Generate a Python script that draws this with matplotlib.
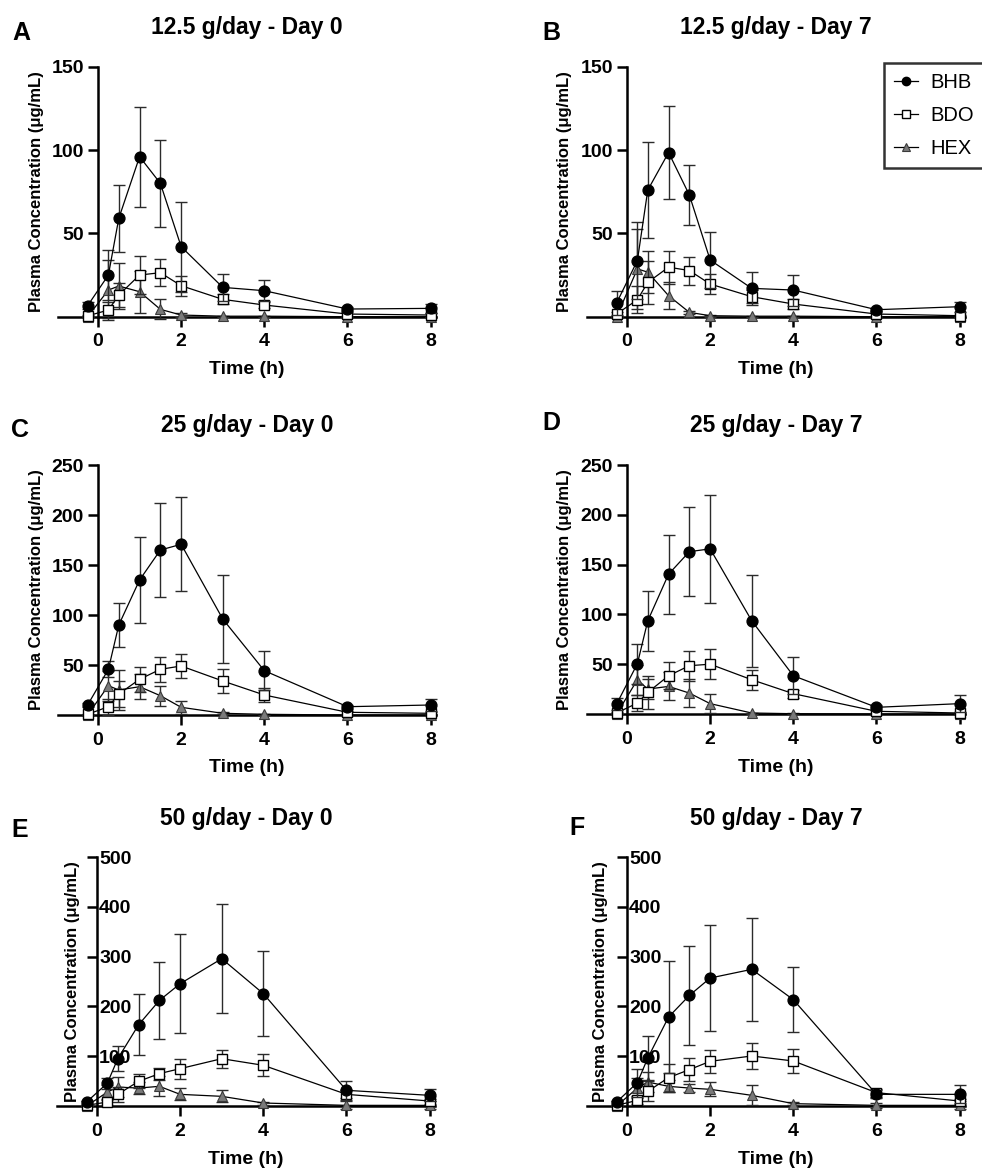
import matplotlib
matplotlib.use("Agg")
import matplotlib.pyplot as plt
from matplotlib.lines import Line2D
import numpy as np

plt.rcParams['font.family'] = ['Liberation Sans', 'DejaVu Sans']

# ---------------- data ----------------
time_h = [-0.25, 0.25, 0.5, 1, 1.5, 2, 3, 4, 6, 8]
series_names = ["BHB", "BDO", "HEX"]
panel_letters = ["A", "B", "C", "D", "E", "F"]
panel_titles = ["12.5 g/day - Day 0", "12.5 g/day - Day 7",
                "25 g/day - Day 0", "25 g/day - Day 7",
                "50 g/day - Day 0", "50 g/day - Day 7"]
y_max = [150, 150, 250, 250, 500, 500]
y_ticks = [[50, 100, 150], [50, 100, 150],
           [50, 100, 150, 200, 250], [50, 100, 150, 200, 250],
           [100, 200, 300, 400, 500], [100, 200, 300, 400, 500]]
x_ticks = [0, 2, 4, 6, 8]

# Panel A: 12.5 g/day Day 0
A_bhb = [6.6, 25, 59, 96, 80, 42, 17.6, 15.6, 4.6, 5]
A_bhb_sd = [2, 15, 20, 30, 26, 27, 8, 6.4, 1, 2.6]
A_bdo = [0.5, 4, 13, 25, 26.4, 18.6, 10.4, 7, 1.6, 1]
A_bdo_sd = [0.5, 5, 7, 11.4, 8, 6, 3, 2, 1, 1]
A_hex = [0, 16, 18.4, 15, 4.4, 1, 0.3, 0.3, 0, 0]
A_hex_sd = [0, 18, 14, 12.6, 6, 1, 0.3, 0.3, 0, 0]

# Panel B: 12.5 g/day Day 7
B_bhb = [8.2, 33.7, 76, 98.5, 73, 34, 17, 16, 4.2, 6]
B_bhb_sd = [7.4, 23, 29, 28, 18, 17, 10, 9.3, 1, 3]
B_bdo = [1.6, 10.2, 20.6, 29.7, 27.7, 19.6, 12, 7.6, 1.6, 0.6]
B_bdo_sd = [1, 8, 13, 10, 8.4, 6, 4, 3, 1, 0.5]
B_hex = [0, 28.7, 26.7, 12.6, 2.6, 0.6, 0.3, 0.3, 0, 0]
B_hex_sd = [0, 24, 12.6, 8, 1, 0.5, 0.3, 0.3, 0, 0]

# Panel C: 25 g/day Day 0
C_bhb = [10, 45.7, 90, 135, 165, 170.7, 96, 44.3, 8.3, 10]
C_bhb_sd = [2, 8, 21.7, 42.7, 46.7, 47, 44.3, 19.7, 2, 5.7]
C_bdo = [0.7, 8.3, 21, 35.7, 45.7, 49, 34, 20, 2.7, 1.7]
C_bdo_sd = [0.5, 8, 13, 12.7, 12.7, 12, 11.7, 6.7, 1.5, 1]
C_hex = [0, 29.3, 25, 28.3, 19.3, 7.7, 1.7, 0.7, 0, 0]
C_hex_sd = [0, 15, 20, 12.6, 10, 6.3, 1, 0.5, 0, 0]

# Panel D: 25 g/day Day 7
D_bhb = [10, 50.5, 93.6, 140.4, 163, 165.8, 93.6, 38.4, 6.7, 10.4]
D_bhb_sd = [6, 20, 30, 39.5, 44.5, 54, 46, 18.4, 2, 8.3]
D_bdo = [1, 11, 21.7, 38.4, 48.5, 50, 34.4, 20.4, 2.7, 1]
D_bdo_sd = [1, 8, 16.7, 13.4, 15, 15, 10, 4, 1.5, 1]
D_hex = [0, 34.4, 25, 27.7, 21, 10.4, 1, 0.3, 0, 0]
D_hex_sd = [0, 15, 10, 14, 14, 9.6, 0.5, 0.3, 0, 0]

# Panel E: 50 g/day Day 0
E_bhb = [8, 46, 95, 163, 212, 245.6, 295.8, 225.6, 31.5, 21.4]
E_bhb_sd = [3, 11, 25, 61, 77, 99, 110, 85.7, 19, 12]
E_bdo = [1.3, 8, 23.4, 49.5, 65, 75, 95, 81.7, 23.4, 10]
E_bdo_sd = [1, 6, 15, 14, 12, 20, 18, 22, 8, 5]
E_hex = [0, 28, 38, 36, 39.5, 23.4, 19.4, 6, 1.3, 1.3]
E_hex_sd = [0, 15, 20, 12, 20, 12, 12, 3, 8, 8]

# Panel F: 50 g/day Day 7
F_bhb = [8, 47, 96.4, 178.7, 222, 257, 274.4, 213.5, 23.4, 23.4]
F_bhb_sd = [3, 28, 45, 112, 100, 106, 104, 65.6, 8, 18]
F_bdo = [1.3, 11.4, 29.4, 57, 73, 89.7, 100.4, 90.4, 26.8, 10]
F_bdo_sd = [1, 8, 20, 28, 23, 23, 26, 25, 8, 5]
F_hex = [0, 36, 48, 39.5, 36, 33.5, 21.4, 4.7, 1.3, 1.3]
F_hex_sd = [0, 20, 20, 12, 8, 14, 20, 3, 5, 8]

panel_data = [
    (A_bhb, A_bhb_sd, A_bdo, A_bdo_sd, A_hex, A_hex_sd),
    (B_bhb, B_bhb_sd, B_bdo, B_bdo_sd, B_hex, B_hex_sd),
    (C_bhb, C_bhb_sd, C_bdo, C_bdo_sd, C_hex, C_hex_sd),
    (D_bhb, D_bhb_sd, D_bdo, D_bdo_sd, D_hex, D_hex_sd),
    (E_bhb, E_bhb_sd, E_bdo, E_bdo_sd, E_hex, E_hex_sd),
    (F_bhb, F_bhb_sd, F_bdo, F_bdo_sd, F_hex, F_hex_sd),
]

# ---------------- layout ----------------
W, H = 982, 1171
fig = plt.figure(figsize=(W / 100, H / 100), dpi=100)
fig.patch.set_facecolor('white')

XMIN, XMAX = -0.96, 8.13
PX_PER_UNIT = 41.58
# (pixel x of y-axis, pixel y of zero line, pixel y of top)
geom = [(98, 316.7, 66.7), (627, 316.7, 66.7),
        (98, 715, 465), (627, 714, 465),
        (97, 1106, 857), (627, 1106, 857)]
letter_pos = [(21, 33), (551, 33), (20, 430), (551, 423), (20, 830), (577, 828)]
ylabel_x = [37, 565, 37, 565, 72, 601]

styles = {
    "BHB": dict(marker='o', mfc='black', mec='black', ms=7.8),
    "BDO": dict(marker='s', mfc='white', mec='black', ms=7.8, mew=1.0),
    "HEX": dict(marker='^', mfc='#7a7a7a', mec='#3a3a3a', ms=7.8, mew=0.8),
}

for i in range(6):
    yx, y0, ytop = geom[i]
    left_px = yx + XMIN * PX_PER_UNIT
    width_px = (XMAX - XMIN) * PX_PER_UNIT
    ax = fig.add_axes([left_px / W, 1 - y0 / H, width_px / W, (y0 - ytop) / H])
    ax.set_xlim(XMIN, XMAX)
    ax.set_ylim(0, y_max[i])
    ax.patch.set_alpha(0)

    bhb, bhb_sd, bdo, bdo_sd, hx, hx_sd = panel_data[i]
    order = [("HEX", hx, hx_sd), ("BDO", bdo, bdo_sd), ("BHB", bhb, bhb_sd)]
    z = 3
    for name, vals, sds in order:
        ax.errorbar(time_h, vals, yerr=sds, fmt='none', ecolor='#2b2b2b',
                    elinewidth=1.0, capsize=4.5, capthick=1.0, zorder=z,
                    clip_on=False)
        ax.plot(time_h, vals, color='black', lw=0.9, zorder=z + 0.5,
                clip_on=False, **styles[name])
        z += 1

    for s in ['top', 'right']:
        ax.spines[s].set_visible(False)
    ax.spines['left'].set_position(('data', 0))
    ax.spines['bottom'].set_position(('data', 0))
    ax.spines['left'].set_linewidth(1.8)
    ax.spines['bottom'].set_linewidth(1.8)
    ax.spines['left'].set_zorder(2)
    ax.spines['bottom'].set_zorder(2)

    ax.set_xticks(x_ticks)
    ax.set_xticklabels([str(t) for t in x_ticks])
    ax.set_yticks(y_ticks[i])
    ax.set_yticklabels([str(t) for t in y_ticks[i]])
    ax.tick_params(axis='x', direction='out', length=7, width=1.8, pad=5,
                   labelsize=14)
    if i >= 4:
        ax.tick_params(axis='y', direction='out', length=7, width=1.8,
                       pad=-8.5, labelsize=14)
        for lbl in ax.get_yticklabels():
            lbl.set_horizontalalignment('left')
    else:
        ax.tick_params(axis='y', direction='out', length=7, width=1.8, pad=3,
                       labelsize=14)
    for lbl in ax.get_xticklabels() + ax.get_yticklabels():
        lbl.set_fontweight('bold')

    # titles / labels
    cx = (left_px + width_px / 2) / W
    fig.text(cx, 1 - (ytop - 39) / H, panel_titles[i], ha='center',
             va='center', fontsize=16.5, fontweight='bold')
    fig.text(letter_pos[i][0] / W, 1 - letter_pos[i][1] / H, panel_letters[i],
             ha='center', va='center', fontsize=18, fontweight='bold')
    fig.text(ylabel_x[i] / W, 1 - ((y0 + ytop) / 2) / H,
             "Plasma Concentration (μg/mL)", rotation=90, ha='center',
             va='center', fontsize=12, fontweight='bold')
    fig.text(cx, 1 - (y0 + 53) / H, "Time (h)", ha='center', va='center',
             fontsize=14, fontweight='bold')

    if i == 1:
        handles = [Line2D([0], [0], color='black', lw=0.9,
                          **dict(styles[n], ms=6)) for n in series_names]
        leg = ax.legend(handles, series_names, loc='upper left',
                        bbox_to_anchor=(884 / W, 1 - 63 / H),
                        bbox_transform=fig.transFigure, borderaxespad=0,
                        fontsize=14.5, frameon=True, fancybox=False,
                        edgecolor='black', handlelength=1.2,
                        handletextpad=0.6, labelspacing=0.7, borderpad=0.5)
        leg.get_frame().set_linewidth(1.8)

fig.savefig("out.png", dpi=100, facecolor='white')
